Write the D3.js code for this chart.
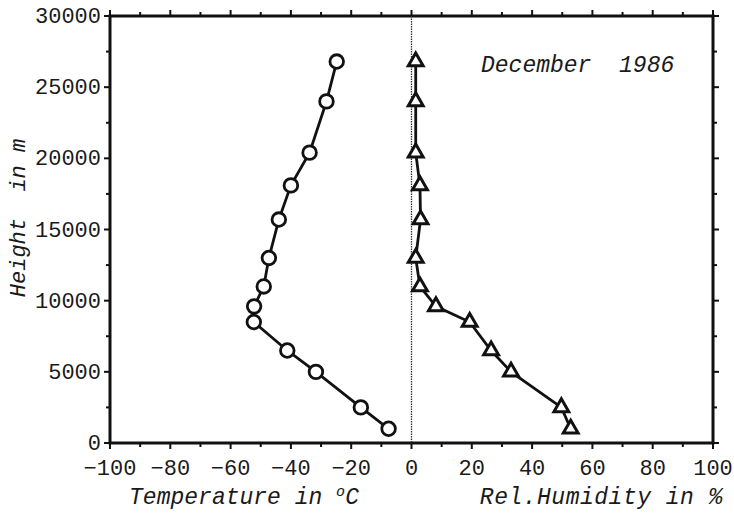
<!DOCTYPE html>
<html>
<head>
<meta charset="utf-8">
<script src="https://cdn.jsdelivr.net/npm/d3@7"></script>
<style>
  html, body { margin: 0; padding: 0; background: #fff; }
  svg { display: block; }
  text { font-family: "Courier New", Courier, "Nimbus Mono PS", FreeMono, "Liberation Mono", monospace; fill: #1a1a1a; }
</style>
</head>
<body>
<svg id="chart" width="734" height="515"></svg>
<script>
// Vertical profile, December 1986
const heights     = [26800, 24000, 20400, 18100, 15700, 13000, 11000, 9600, 8500, 6500, 5000, 2500, 1000];
const temperature = [-24.8, -28.2, -33.8, -40.0, -44.0, -47.3, -49.0, -52.2, -52.3, -41.2, -31.7, -16.8, -7.6];
const humidity    = [1.4, 1.4, 1.4, 2.8, 3.0, 1.4, 2.8, 8.1, 19.3, 26.4, 33.0, 49.7, 52.8];
const xTicks      = [-100, -80, -60, -40, -20, 0, 20, 40, 60, 80, 100];
const yTicks      = [0, 5000, 10000, 15000, 20000, 25000, 30000];

const svg = d3.select("#chart");
const plotL = 110, plotR = 713, plotT = 16, plotB = 443;

const x = d3.scaleLinear().domain([-100, 100]).range([plotL, plotR]);
const y = d3.scaleLinear().domain([0, 30000]).range([plotB, plotT]);

// minor ticks
const xMinor = d3.range(-100, 101, 10);
const yMinor = d3.range(0, 30001, 2500);

const ax = svg.append("g").attr("stroke", "#111");
xMinor.forEach(v => {
  const len = v % 20 === 0 ? 6 : 4;
  ax.append("line").attr("x1", x(v)).attr("x2", x(v)).attr("y1", plotB).attr("y2", plotB + len).attr("stroke-width", 2);
  ax.append("line").attr("x1", x(v)).attr("x2", x(v)).attr("y1", plotT).attr("y2", plotT - len).attr("stroke-width", 2);
});
yMinor.forEach(v => {
  const len = v % 5000 === 0 ? 6 : 4;
  ax.append("line").attr("x1", plotL).attr("x2", plotL - len).attr("y1", y(v)).attr("y2", y(v)).attr("stroke-width", 2);
  ax.append("line").attr("x1", plotR).attr("x2", plotR + len).attr("y1", y(v)).attr("y2", y(v)).attr("stroke-width", 2);
});

// frame
svg.append("rect")
  .attr("x", plotL).attr("y", plotT)
  .attr("width", plotR - plotL).attr("height", plotB - plotT)
  .attr("fill", "none").attr("stroke", "#111").attr("stroke-width", 3);

// zero line
svg.append("line")
  .attr("x1", x(0)).attr("x2", x(0)).attr("y1", plotT).attr("y2", plotB)
  .attr("stroke", "#333").attr("stroke-width", 1.3).attr("stroke-dasharray", "1.5,1");

// tick labels
svg.append("g").selectAll("text").data(xTicks).join("text")
  .attr("x", d => x(d)).attr("y", 475)
  .attr("text-anchor", "middle")
  .attr("font-size", 22)
  .text(d => d < 0 ? "\u2212" + Math.abs(d) : d);

svg.append("g").selectAll("text").data(yTicks).join("text")
  .attr("x", 101).attr("y", d => y(d) + 7)
  .attr("text-anchor", "end")
  .attr("font-size", 22)
  .text(d => d);

// axis titles
svg.append("text")
  .attr("x", 244).attr("y", 504)
  .attr("text-anchor", "middle")
  .attr("font-size", 23).attr("font-style", "italic")
  .html('Temperature in <tspan font-size="15" dy="-8">o</tspan><tspan dy="8">C</tspan>');

svg.append("text")
  .attr("x", 723).attr("y", 504)
  .attr("text-anchor", "end")
  .attr("font-size", 23).attr("font-style", "italic")
  .attr("letter-spacing", 0.5)
  .text("Rel.Humidity in %");

svg.append("text")
  .attr("transform", "translate(25,218) rotate(-90)")
  .attr("text-anchor", "middle")
  .attr("font-size", 22).attr("font-style", "italic")
  .style("white-space", "pre")
  .text("Height  in m");

svg.append("text")
  .attr("x", 481).attr("y", 72)
  .attr("font-size", 23).attr("font-style", "italic")
  .style("white-space", "pre")
  .text("December  1986");

// temperature profile
const tData = heights.map((h, i) => ({ h, v: temperature[i] }));
const hData = heights.map((h, i) => ({ h, v: humidity[i] }));
const line = d3.line().x(d => x(d.v)).y(d => y(d.h));

svg.append("path").datum(tData).attr("d", line)
  .attr("fill", "none").attr("stroke", "#111").attr("stroke-width", 2.8);
svg.append("g").selectAll("circle").data(tData).join("circle")
  .attr("cx", d => x(d.v)).attr("cy", d => y(d.h)).attr("r", 6.8)
  .attr("fill", "#fff").attr("stroke", "#111").attr("stroke-width", 2.8);

// humidity profile
svg.append("path").datum(hData).attr("d", line)
  .attr("fill", "none").attr("stroke", "#111").attr("stroke-width", 2.8);
const tri = d3.symbol().type(d3.symbolTriangle).size(95);
svg.append("g").selectAll("path").data(hData).join("path")
  .attr("d", tri)
  .attr("transform", d => `translate(${x(d.v)},${y(d.h)})`)
  .attr("fill", "#fff").attr("stroke", "#111").attr("stroke-width", 3)
  .attr("stroke-linejoin", "miter");
</script>
</body>
</html>
